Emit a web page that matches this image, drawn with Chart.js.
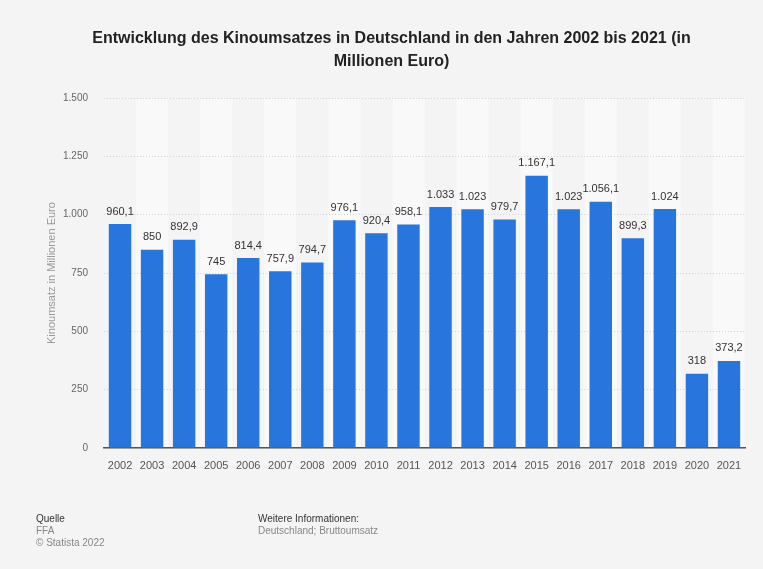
<!DOCTYPE html>
<html lang="de">
<head>
<meta charset="utf-8">
<title>Kinoumsatz Deutschland</title>
<script src="https://cdn.jsdelivr.net/npm/chart.js@4.4.1/dist/chart.umd.min.js"></script>
<style>
  html, body { margin: 0; padding: 0; background: #f4f4f4; }
  #wrap { position: relative; width: 763px; height: 569px; }
  #kino-chart { position: absolute; left: 0; top: 0; }
  .foot { position: absolute; font-family: "Liberation Sans", Arial, sans-serif; font-size: 10px; line-height: 12px; color: #888; }
  .foot b { font-weight: normal; color: #333; }
</style>
</head>
<body>
<div id="wrap">
  <canvas id="kino-chart" width="763" height="569"></canvas>
  <div class="foot" style="left:36px; top:513px;"><b>Quelle</b><br>FFA<br>© Statista 2022</div>
  <div class="foot" style="left:258px; top:513px;"><b>Weitere Informationen:</b><br>Deutschland; Bruttoumsatz</div>
</div>
<script>
// Jahre und Kinoumsatz (Mio. Euro)
const years = ["2002", "2003", "2004", "2005", "2006", "2007", "2008", "2009", "2010", "2011",
               "2012", "2013", "2014", "2015", "2016", "2017", "2018", "2019", "2020", "2021"];
const umsatz = [960.1, 850, 892.9, 745, 814.4, 757.9, 794.7, 976.1, 920.4, 958.1,
                1033, 1023, 979.7, 1167.1, 1023, 1056.1, 899.3, 1024, 318, 373.2];
const yTicks = [0, 250, 500, 750, 1000, 1250, 1500];

const titleLines = ["Entwicklung des Kinoumsatzes in Deutschland in den Jahren 2002 bis 2021 (in", "Millionen Euro)"];
const yTitle = "Kinoumsatz in Millionen Euro";

const FONT = "'Liberation Sans', Arial, sans-serif";

// deutsche Schreibweise: 1.167,1
function fmtDE(v) {
  const parts = String(v).split(".");
  const int = parts[0].replace(/\B(?=(\d{3})+(?!\d))/g, ".");
  return parts.length > 1 ? int + "," + parts[1] : int;
}

// helle Streifen hinter jeder zweiten Kategorie (vor Gitter und Achsen zeichnen)
const stripes = {
  id: "stripes",
  beforeDraw(chart) {
    const { ctx, chartArea, scales: { x } } = chart;
    const w = (chartArea.right - chartArea.left) / years.length;
    ctx.save();
    ctx.fillStyle = "#f9f9f9";
    years.forEach((_, i) => {
      if (i % 2 === 1) {
        const cx = x.getPixelForValue(i);
        ctx.fillRect(cx - w / 2, chartArea.top + 1, w, chartArea.bottom - chartArea.top - 1);
      }
    });
    ctx.restore();
  }
};

// Werte über den Balken
const valueLabels = {
  id: "valueLabels",
  afterDatasetsDraw(chart) {
    const { ctx } = chart;
    const meta = chart.getDatasetMeta(0);
    ctx.save();
    ctx.font = "11px " + FONT;
    ctx.fillStyle = "#333";
    ctx.textAlign = "center";
    ctx.textBaseline = "bottom";
    meta.data.forEach((bar, i) => {
      ctx.fillText(fmtDE(umsatz[i]), bar.x, bar.y - 7);
    });
    ctx.restore();
  }
};

const ctx = document.getElementById("kino-chart").getContext("2d");

new Chart(ctx, {
  type: "bar",
  data: {
    labels: years,
    datasets: [{
      data: umsatz,
      backgroundColor: "#2876dd",
      barPercentage: 0.7,
      categoryPercentage: 1.0
    }]
  },
  options: {
    responsive: false,
    animation: false,
    layout: { padding: { left: 38, right: 18, top: 0, bottom: 91 } },
    plugins: {
      legend: { display: false },
      tooltip: { enabled: false },
      title: {
        display: true,
        text: titleLines,
        color: "#222",
        font: { family: FONT, size: 16, weight: "bold", lineHeight: 1.44 },
        padding: { top: 27, bottom: 25 }
      }
    },
    scales: {
      x: {
        grid: { display: false },
        border: { color: "#555", width: 1.5 },
        ticks: { color: "#555", font: { family: FONT, size: 11 }, padding: 3, maxRotation: 0 },
        afterFit(scale) { scale.height = 30; }
      },
      y: {
        min: 0,
        max: 1500,
        afterBuildTicks(scale) { scale.ticks = yTicks.map(v => ({ value: v })); },
        grid: { color: "#d2d2d2", drawTicks: false },
        border: { display: false, dash: [1, 2] },
        ticks: {
          color: "#666",
          font: { family: FONT, size: 10 },
          padding: 16,
          callback: v => fmtDE(v)
        },
        title: {
          display: true,
          text: yTitle,
          color: "#999",
          font: { family: FONT, size: 11 },
          padding: { top: 7, bottom: 0 }
        },
        afterFit(scale) { scale.width = 66; }
      }
    }
  },
  plugins: [stripes, valueLabels]
});
</script>
</body>
</html>
